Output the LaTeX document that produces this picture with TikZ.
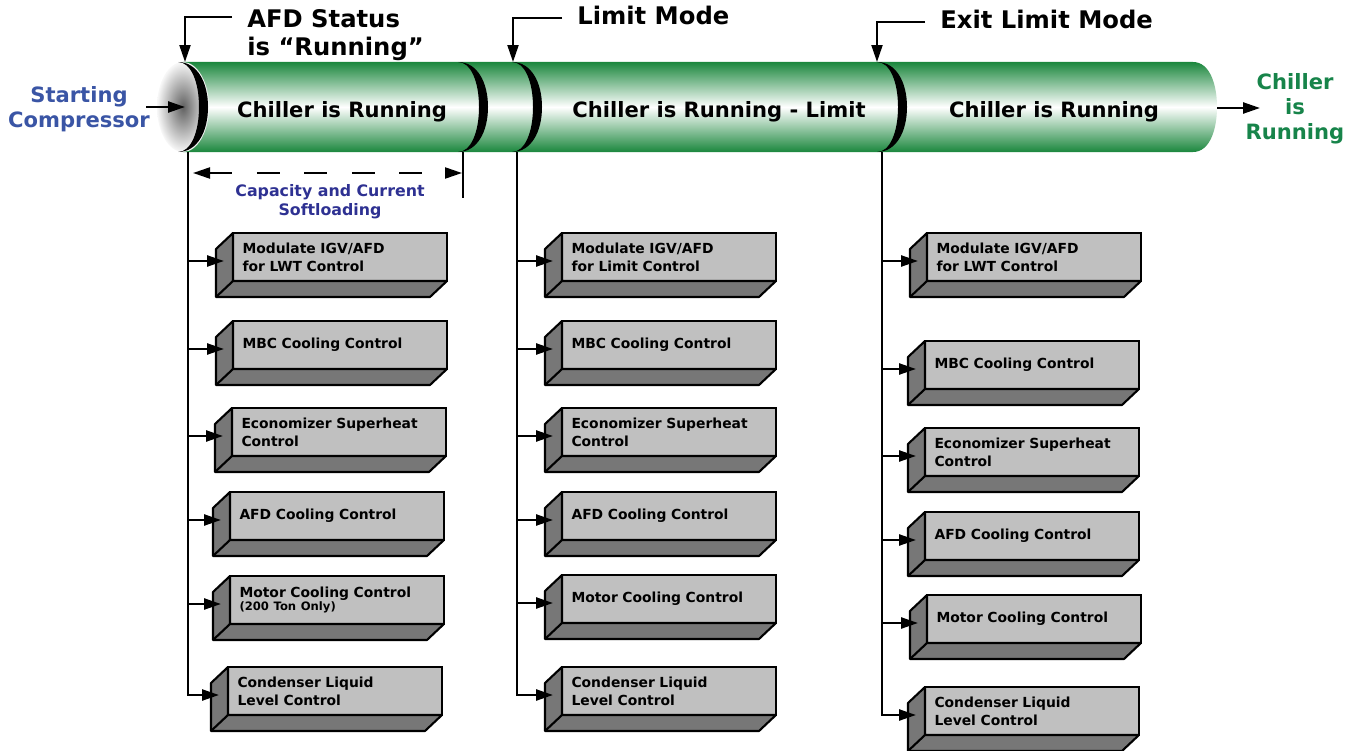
\documentclass[tikz,border=0pt]{standalone}
\usepackage{fontspec}
\setmainfont{DejaVu Sans}
\usetikzlibrary{arrows.meta, positioning, calc}

\definecolor{tubegreen}{HTML}{1B873D}
\definecolor{startblue}{HTML}{3A55A5}
\definecolor{softblue}{HTML}{2E3192}
\definecolor{rungreen}{HTML}{17844A}
\definecolor{facegray}{HTML}{C0C0C0}
\definecolor{sidegray}{HTML}{777777}

\newcommand{\boxfont}{\bfseries\fontsize{7.9}{10.4}\selectfont}
\newcommand{\tinynote}{\fontsize{6.6}{7.5}\selectfont}

\tikzset{
  ctrl/.style={draw, line width=1.2pt, fill=facegray, anchor=north west, outer sep=0pt,
    minimum width=4.28cm, minimum height=0.96cm, text width=3.9cm,
    inner xsep=0.18cm, inner ysep=0pt, align=left, font=\boxfont},
  slab/.style={draw, line width=1.2pt, fill=sidegray, line join=round},
  link/.style={->, line width=1.4pt},
  toptext/.style={font=\bfseries\fontsize{13.8}{16}\selectfont, align=left, inner sep=0pt},
  tubetext/.style={font=\bfseries\fontsize{12}{14.2}\selectfont, inner sep=0pt, align=center},
}

% side and bottom face of a control box
\newcommand{\drawslab}[1]{%
  \draw[slab] (#1.north west) -- ++(-17,16) -- ($(#1.south west)+(-17,16)$)
    -- ($(#1.south east)+(-17,16)$) -- (#1.south east) -- (#1.south west) -- cycle;
  \draw[line width=1.2pt] (#1.south west) -- ++(-17,16);
  \coordinate (#1-in) at ($(#1.west)+(-9,4)$);
}

\begin{document}
\begin{tikzpicture}[x=0.02cm, y=-0.02cm, >={Triangle[length=0.34cm,width=0.22cm]}]
    \useasboundingbox (0,0) rectangle (1361,750);

    % tube
    \shade[top color=tubegreen, bottom color=tubegreen, middle color=white]
        (183,62) -- (1193,62) .. controls (1210,62) and (1217,85) .. (1217,107)
        .. controls (1217,129) and (1210,152) .. (1193,152) -- (183,152) -- cycle;
    \shade[inner color=black!62, outer color=gray!6] (183,107) ellipse [x radius=0.52cm, y radius=0.9cm];
    \foreach \c in {178,458,512,877} {
        \fill (\c,62) .. controls (\c+19,62) and (\c+30,82) .. (\c+30,107)
            .. controls (\c+30,132) and (\c+19,152) .. (\c,152)
            .. controls (\c+13,152) and (\c+21,132) .. (\c+21,107)
            .. controls (\c+21,82) and (\c+13,62) .. (\c,62) -- cycle;
    }
    \coordinate (capface) at (185,107);
    \coordinate (tubeend) at (1217,108);
    \node[tubetext] (seg1) at (342,117) [anchor=base] {Chiller is Running};
    \node[tubetext] (seg2) at (719,117) [anchor=base] {Chiller is Running - Limit};
    \node[tubetext] (seg3) at (1054,117) [anchor=base] {Chiller is Running};

    % start and end
    \node[tubetext, text=startblue] (start) at (79,109) {Starting\\Compressor};
    \draw[link] (start.east) ++(-4,-2) -- (capface);
    \node[tubetext, text=rungreen] (done) at (1295,109) {Chiller\\is\\Running};
    \coordinate (donetip) at (1260,108);
    \draw[link] (tubeend) -- (donetip);

    % mode changes
    \node[toptext, anchor=north west] (afd) at (247,9) {AFD Status\\is “Running”};
    \node[toptext, anchor=base west] (limit) at (577,25) {Limit Mode};
    \node[toptext, anchor=base west] (exit) at (940,29) {Exit Limit Mode};
    \coordinate (afdtip) at (185,62);
    \coordinate (limittip) at (513,62);
    \coordinate (exittip) at (877,62);
    \draw[link, line width=1.2pt] (232,17) -| (afdtip);
    \draw[link, line width=1.2pt] (562,18) -| (limittip);
    \draw[link, line width=1.2pt] (925,22) -| (exittip);

    % softloading span
    \coordinate (softL) at (193,173);
    \coordinate (softR) at (462,173);
    \draw[<->, line width=1.2pt, dash pattern=on 13pt off 14pt] (softL) -- (softR);
    \draw[line width=1.4pt] (463,152) -- (463,198);
    \node[font=\bfseries\fontsize{9}{10.8}\selectfont, text=softblue, align=center] (soft) at (330,202)
        {Capacity and Current\\Softloading};

    % control boxes
    \foreach \i/\x/\y/\txt in {1/233/233/{Modulate IGV/AFD\\for LWT Control}, 2/233/321/{MBC Cooling Control},
            3/232/408/{Economizer Superheat\\Control}, 4/230/492/{AFD Cooling Control},
            5/230/576/{Motor Cooling Control\\[-3pt]{\tinynote (200 Ton Only)}}, 6/228/667/{Condenser Liquid\\Level Control}} {
        \node[ctrl] (run\i) at (\x,\y) {\txt};
        \drawslab{run\i}
    }
    \foreach \i/\x/\y/\txt in {1/562/233/{Modulate IGV/AFD\\for Limit Control}, 2/562/321/{MBC Cooling Control},
            3/562/408/{Economizer Superheat\\Control}, 4/562/492/{AFD Cooling Control},
            5/562/575/{Motor Cooling Control}, 6/562/667/{Condenser Liquid\\Level Control}} {
        \node[ctrl] (lim\i) at (\x,\y) {\txt};
        \drawslab{lim\i}
    }
    \foreach \i/\x/\y/\txt in {1/927/233/{Modulate IGV/AFD\\for LWT Control}, 2/925/341/{MBC Cooling Control},
            3/925/428/{Economizer Superheat\\Control}, 4/925/512/{AFD Cooling Control},
            5/927/595/{Motor Cooling Control}, 6/925/687/{Condenser Liquid\\Level Control}} {
        \node[ctrl] (ext\i) at (\x,\y) {\txt};
        \drawslab{ext\i}
    }

    % branch lines
    \coordinate (spine1) at (188,152);
    \coordinate (spine2) at (517,152);
    \coordinate (spine3) at (882,152);
    \draw[link] (spine1) |- (run6-in);
    \draw[link] (spine2) |- (lim6-in);
    \draw[link] (spine3) |- (ext6-in);
    \foreach \i in {1,...,5} {
        \draw[link] (spine1 |- run\i-in) -- (run\i-in);
        \draw[link] (spine2 |- lim\i-in) -- (lim\i-in);
        \draw[link] (spine3 |- ext\i-in) -- (ext\i-in);
    }
\end{tikzpicture}
\end{document}
